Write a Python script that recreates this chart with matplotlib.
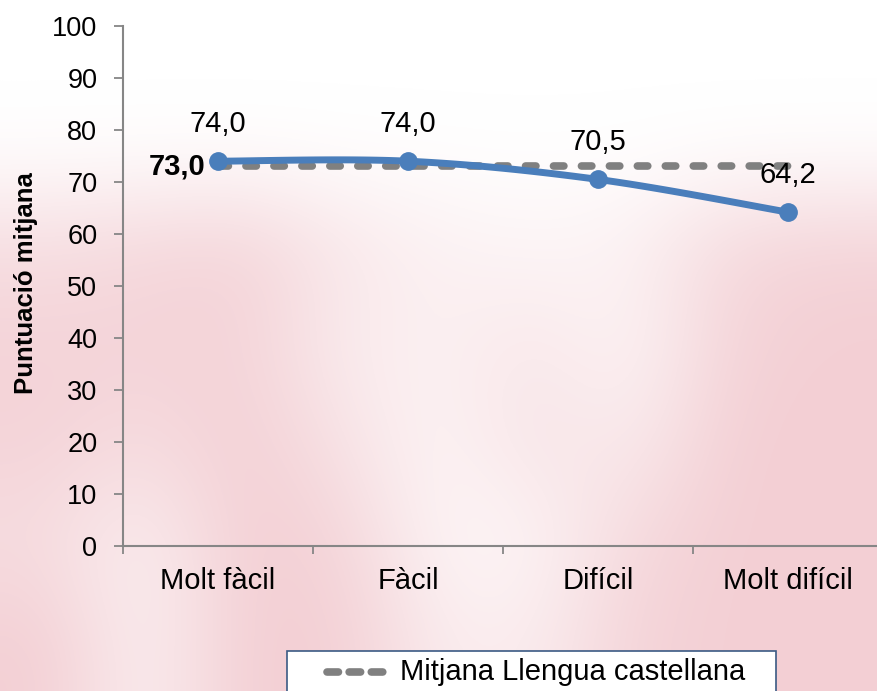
import numpy as np
import matplotlib
matplotlib.use("Agg")
import matplotlib.pyplot as plt
from matplotlib.lines import Line2D
from matplotlib.patches import Rectangle
from matplotlib.colors import LinearSegmentedColormap

plt.rcParams['font.family'] = ['Liberation Sans', 'DejaVu Sans']

categories = ["Molt fàcil", "Fàcil", "Difícil", "Molt difícil"]
scores = [74.0, 74.0, 70.5, 64.2]
score_labels = ["74,0", "74,0", "70,5", "64,2"]
mean_value = 73.0
mean_label = "73,0"
legend_label = "Mitjana Llengua castellana"
y_label = "Puntuació mitjana"
y_ticks = [0, 10, 20, 30, 40, 50, 60, 70, 80, 90, 100]

W, H = 877, 691
fig = plt.figure(figsize=(W / 100, H / 100), dpi=100)
fig.patch.set_facecolor('white')

# faint, blurred pink watermark in the background (decorative)
bg = fig.add_axes([0, 0, 1, 1], zorder=-10)
bg.axis('off')
wash = np.array([
    [0.0, 0.0, 0.0, 0.0, 0.0, 0.0, 0.0, 0.0, 0.0],
    [0.0, 0.0, 0.0, 0.0, 0.0, 0.0, 0.0, 0.0, 0.0],
    [0.7, 0.8, 0.9, 0.5, 0.3, 0.2, 0.3, 0.8, 0.9],
    [0.9, 0.9, 0.9, 0.4, 0.3, 0.5, 0.2, 0.9, 1.0],
    [0.9, 0.7, 1.0, 0.6, 0.2, 0.6, 0.4, 1.0, 1.0],
    [0.7, 0.3, 1.0, 0.9, 0.2, 0.2, 0.8, 1.0, 1.0],
    [1.0, 0.3, 1.0, 1.0, 0.4, 0.4, 0.9, 1.0, 1.0],
])
cmap = LinearSegmentedColormap.from_list('wash', ['#ffffff', '#f3cfd4'])
bg.imshow(wash, cmap=cmap, vmin=0, vmax=1, interpolation='bicubic',
          extent=(0, W, H, 0), aspect='auto')
bg.set_xlim(0, W); bg.set_ylim(H, 0)

left, right, bottom, top = 123, 883, 546, 26
ax = fig.add_axes([left / W, (H - bottom) / H, (right - left) / W, (bottom - top) / H])
ax.patch.set_alpha(0)

x = np.arange(len(categories))

# Catmull-Rom smoothing (like Excel smoothed line)
def catmull_rom(xs, ys, n=40):
    px = np.concatenate([[xs[0]], xs, [xs[-1]]])
    py = np.concatenate([[ys[0]], ys, [ys[-1]]])
    ox, oy = [], []
    for i in range(1, len(px) - 2):
        t = np.linspace(0, 1, n)
        for arr, out in ((px, ox), (py, oy)):
            p0, p1, p2, p3 = arr[i - 1], arr[i], arr[i + 1], arr[i + 2]
            out.extend(0.5 * ((2 * p1) + (-p0 + p2) * t + (2 * p0 - 5 * p1 + 4 * p2 - p3) * t ** 2
                              + (-p0 + 3 * p1 - 3 * p2 + p3) * t ** 3))
    return np.array(ox), np.array(oy)

sx, sy = catmull_rom(x.astype(float), np.array(scores))
ax.plot(sx, sy, color='#4a7ebb', lw=5, solid_capstyle='round', zorder=3)
ax.plot(x, scores, 'o', color='#4a7ebb', ms=12.5, zorder=4)

ax.plot([x[0], x[-1]], [mean_value, mean_value], color='#808080', lw=5.5,
        dashes=(1.36, 2.3), dash_capstyle='round', zorder=2)

for xi, yi, lab in zip(x, scores, score_labels):
    ax.annotate(lab, (xi, yi), xytext=(0, 17), textcoords='offset points',
                ha='center', va='bottom', fontsize=21)
ax.annotate(mean_label, (x[0], mean_value), xytext=(-9, 0), textcoords='offset points',
            ha='right', va='center', fontsize=21, fontweight='bold')

ax.set_xlim(-0.5, len(categories) - 0.5)
ax.set_ylim(0, 100)
ax.set_yticks(y_ticks)
ax.set_yticklabels([str(v) for v in y_ticks], fontsize=19.5)
ax.set_xticks(x)
ax.set_xticklabels(categories, fontsize=21)
ax.set_xticks(np.arange(len(categories) + 1) - 0.5, minor=True)
ax.tick_params(axis='x', which='major', length=0, pad=15)
ax.tick_params(axis='x', which='minor', length=6, color='#868686', width=1.3)
ax.tick_params(axis='y', length=6.5, color='#868686', width=1.3, pad=12)
for sp in ('top', 'right'):
    ax.spines[sp].set_visible(False)
for sp in ('left', 'bottom'):
    ax.spines[sp].set_color('#868686')
    ax.spines[sp].set_linewidth(1.5)

fig.text(26 / W, 1 - 283 / H, y_label, rotation=90, ha='center', va='center',
         fontsize=18.5, fontweight='bold')

# legend box (drawn in figure pixel coordinates, partly below the image edge)
lg = fig.add_axes([0, 0, 1, 1], zorder=5)
lg.axis('off')
lg.set_xlim(0, W); lg.set_ylim(H, 0)
lg.add_patch(Rectangle((287, 651), 776 - 287, 60, facecolor='white',
                       edgecolor='#3b5a84', lw=1.2, clip_on=False))
lg.add_line(Line2D([327, 392], [672, 672], color='#808080', lw=5.5,
                   dashes=(1.5, 1.4), dash_capstyle='round'))
lg.text(400, 672, legend_label, ha='left', va='center', fontsize=21)

fig.savefig('out.png', dpi=100)
